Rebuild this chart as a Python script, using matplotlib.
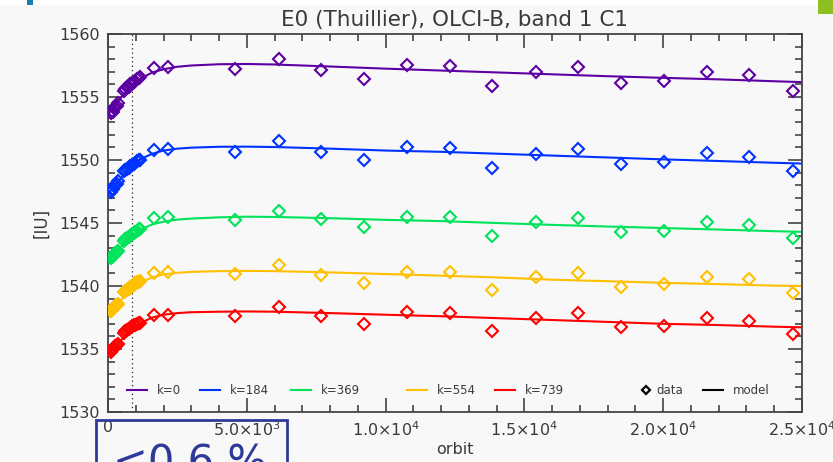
import matplotlib
matplotlib.use("Agg")
import matplotlib.pyplot as plt
from matplotlib.patches import Rectangle
import numpy as np

# ---------------- data ----------------
labels = ["k=0", "k=184", "k=369", "k=554", "k=739"]
colors = ["#5c00a3", "#0033ff", "#00e35a", "#ffc000", "#ff0000"]

# early dense orbits and later sparse orbits
orbit_early = [110, 150, 190, 230, 270, 310, 350, 560, 620, 680, 740, 800, 860, 920, 980, 1040, 1100, 1160]
orbit_late = [1657, 2150, 4586, 6160, 7684, 9222, 10782, 12306, 13843, 15406,
              16942, 18467, 20027, 21565, 23089, 24663]

early_k0 = [1553.7, 1553.9, 1553.8, 1554.1, 1554.2, 1554.3, 1554.5, 1555.5, 1555.6, 1555.8, 1555.8, 1556.0, 1556.1, 1556.2, 1556.3, 1556.4, 1556.5, 1556.6]
early_k184 = [1547.5, 1547.6, 1547.7, 1547.9, 1548.0, 1548.1, 1548.3, 1549.1, 1549.2, 1549.3, 1549.4, 1549.5, 1549.6, 1549.7, 1549.8, 1549.9, 1550.0, 1550.0]
early_k369 = [1542.2, 1542.3, 1542.4, 1542.5, 1542.6, 1542.7, 1542.8, 1543.6, 1543.7, 1543.8, 1543.9, 1544.0, 1544.1, 1544.2, 1544.3, 1544.4, 1544.5, 1544.5]
early_k554 = [1538.0, 1538.1, 1538.2, 1538.3, 1538.4, 1538.5, 1538.6, 1539.5, 1539.6, 1539.7, 1539.8, 1539.9, 1540.0, 1540.1, 1540.2, 1540.3, 1540.3, 1540.4]
early_k739 = [1534.8, 1534.9, 1535.0, 1535.1, 1535.2, 1535.3, 1535.4, 1536.3, 1536.4, 1536.5, 1536.6, 1536.7, 1536.8, 1536.9, 1536.9, 1537.0, 1537.1, 1537.1]

late_k0 = [1557.27, 1557.36, 1557.2, 1558.0, 1557.14, 1556.45, 1557.54, 1557.46,
           1555.87, 1557.0, 1557.4, 1556.13, 1556.27, 1557.0, 1556.77, 1555.5]
late_k184 = [1550.79, 1550.85, 1550.66, 1551.48, 1550.66, 1550.0, 1551.0, 1550.93,
             1549.39, 1550.48, 1550.85, 1549.66, 1549.82, 1550.53, 1550.24, 1549.1]
late_k369 = [1545.37, 1545.45, 1545.24, 1545.98, 1545.29, 1544.66, 1545.5, 1545.5,
             1544.0, 1545.1, 1545.42, 1544.26, 1544.37, 1545.1, 1544.84, 1543.78]
late_k554 = [1541.06, 1541.11, 1540.95, 1541.67, 1540.9, 1540.26, 1541.13, 1541.13,
             1539.68, 1540.74, 1541.06, 1539.94, 1540.13, 1540.74, 1540.53, 1539.47]
late_k739 = [1537.7, 1537.7, 1537.64, 1538.31, 1537.62, 1536.96, 1537.96, 1537.88,
             1536.46, 1537.49, 1537.88, 1536.72, 1536.83, 1537.49, 1537.22, 1536.17]

orbit_model = [0, 300, 600, 900, 1200, 1600, 2000, 2500, 3000, 4000, 5000, 6000, 8000,
               10000, 12000, 14000, 16000, 18000, 20000, 22000, 24000, 25000]
model_k0 = [1553.6, 1554.5, 1555.3, 1556.0, 1556.5, 1556.95, 1557.2, 1557.4, 1557.5, 1557.6, 1557.62,
            1557.58, 1557.42, 1557.25, 1557.1, 1556.95, 1556.8, 1556.65, 1556.52, 1556.4, 1556.25, 1556.18]
model_k184 = [1547.3, 1548.1, 1548.9, 1549.6, 1550.1, 1550.5, 1550.75, 1550.9, 1550.98, 1551.05, 1551.06,
              1551.03, 1550.9, 1550.75, 1550.65, 1550.5, 1550.35, 1550.2, 1550.05, 1549.92, 1549.78, 1549.72]
model_k369 = [1542.0, 1542.7, 1543.4, 1544.0, 1544.5, 1544.9, 1545.1, 1545.27, 1545.35, 1545.45, 1545.5,
              1545.48, 1545.38, 1545.25, 1545.15, 1545.0, 1544.85, 1544.72, 1544.6, 1544.48, 1544.35, 1544.3]
model_k554 = [1537.8, 1538.5, 1539.2, 1539.8, 1540.3, 1540.7, 1540.92, 1541.05, 1541.12, 1541.18, 1541.2,
              1541.18, 1541.08, 1540.95, 1540.82, 1540.68, 1540.5, 1540.38, 1540.25, 1540.15, 1540.03, 1540.0]
model_k739 = [1534.6, 1535.3, 1536.0, 1536.6, 1537.1, 1537.5, 1537.72, 1537.85, 1537.92, 1537.96, 1537.98,
              1537.96, 1537.85, 1537.72, 1537.6, 1537.45, 1537.3, 1537.15, 1537.0, 1536.9, 1536.77, 1536.72]

early = [early_k0, early_k184, early_k369, early_k554, early_k739]
late = [late_k0, late_k184, late_k369, late_k554, late_k739]
models = [model_k0, model_k184, model_k369, model_k554, model_k739]

xticks = [0, 5000, 10000, 15000, 20000, 25000]
xticklabels = ["0", r"5.0$\times$10$^3$", r"1.0$\times$10$^4$", r"1.5$\times$10$^4$",
               r"2.0$\times$10$^4$", r"2.5$\times$10$^4$"]
yticks = [1530, 1535, 1540, 1545, 1550, 1555, 1560]
dotted_orbit = 880

# ---------------- figure ----------------
plt.rcParams['font.family'] = ['DejaVu Sans']
plt.rcParams['mathtext.fontset'] = 'dejavusans'
W, H = 833, 462
fig = plt.figure(figsize=(W / 100, H / 100), dpi=100, facecolor="#f8f8f8")
ax = fig.add_axes([108 / W, 1 - 412 / H, 694 / W, 378 / H])
ax.set_facecolor("#f8f8f8")

for e, l, m, c in zip(early, late, models, colors):
    ax.plot(orbit_model, m, color=c, lw=1.5, zorder=2)
    ax.plot(orbit_early + orbit_late, e + l, ls="none", marker="D", ms=6.2,
            mfc="none", mec=c, mew=1.5, zorder=3)

ax.axvline(dotted_orbit, color="#222222", lw=0.9, ls=(0, (1, 2.5)), zorder=1)

ax.set_xlim(0, 25000)
ax.set_ylim(1530, 1560)
ax.set_xticks(xticks)
ax.set_xticklabels(xticklabels)
ax.set_xticks(np.arange(0, 25001, 1000), minor=True)
ax.set_yticks(yticks)
ax.set_yticks(np.arange(1530, 1561, 1), minor=True)

axc = "#444444"
for s in ax.spines.values():
    s.set_color(axc)
    s.set_linewidth(1.3)
ax.tick_params(which="both", direction="in", top=True, right=True, color=axc,
               labelcolor="#3a3a3a", labelsize=11.5)
ax.tick_params(which="major", length=10, width=1.2, pad=6)
ax.tick_params(which="minor", length=5, width=1.2)

ax.set_title("E0 (Thuillier), OLCI-B, band 1 C1", fontsize=15.5, color="#3a3a3a", pad=6)
ax.set_xlabel("orbit", fontsize=11.5, color="#3a3a3a", labelpad=2)
ax.set_ylabel("[IU]", fontsize=12, color="#3a3a3a", labelpad=6)

# legend (drawn manually in axes coordinates)
ly = 1 - (390 - 34) / 378
def axx(px):
    return (px - 108) / 694
leg_lines = [126.7, 200, 291, 407, 495]
for px, c, lab in zip(leg_lines, colors, labels):
    ax.plot([axx(px), axx(px + 20)], [ly, ly], color=c, lw=1.5, transform=ax.transAxes)
    ax.text(axx(px + 30), ly, lab, transform=ax.transAxes, fontsize=8.5,
            color="#3a3a3a", va="center", ha="left")
ax.plot([axx(646)], [ly], marker="D", ms=4.2, mfc="none", mec="black", mew=1.6,
        transform=ax.transAxes)
ax.text(axx(656), ly, "data", transform=ax.transAxes, fontsize=8.5, color="#3a3a3a",
        va="center", ha="left")
ax.plot([axx(703), axx(723)], [ly, ly], color="black", lw=1.5, transform=ax.transAxes)
ax.text(axx(733), ly, "model", transform=ax.transAxes, fontsize=8.5, color="#3a3a3a",
        va="center", ha="left")

# screenshot overlays
fig.patches.append(Rectangle((0, 1 - 5 / H), 1, 5 / H, transform=fig.transFigure,
                             facecolor="white", edgecolor="none", zorder=5))
fig.patches.append(Rectangle((27 / W, 1 - 5 / H), 6 / W, 5 / H, transform=fig.transFigure,
                             facecolor="#1b7db5", edgecolor="none", zorder=6))
fig.patches.append(Rectangle((818 / W, 1 - 14 / H), 15 / W, 14 / H, transform=fig.transFigure,
                             facecolor="#8cbf1f", edgecolor="none", zorder=6))
fig.patches.append(Rectangle((96 / W, -0.05), 191 / W, 0.05 + (462 - 420) / H,
                             transform=fig.transFigure, facecolor="none",
                             edgecolor="#2e3a9a", lw=2, zorder=6))
fig.text(190 / W, 1 - 443 / H, "<0.6 %", fontsize=30, color="#2e3a9a", ha="center",
         va="top", zorder=7)

fig.savefig("out.png", dpi=100, facecolor=fig.get_facecolor())
